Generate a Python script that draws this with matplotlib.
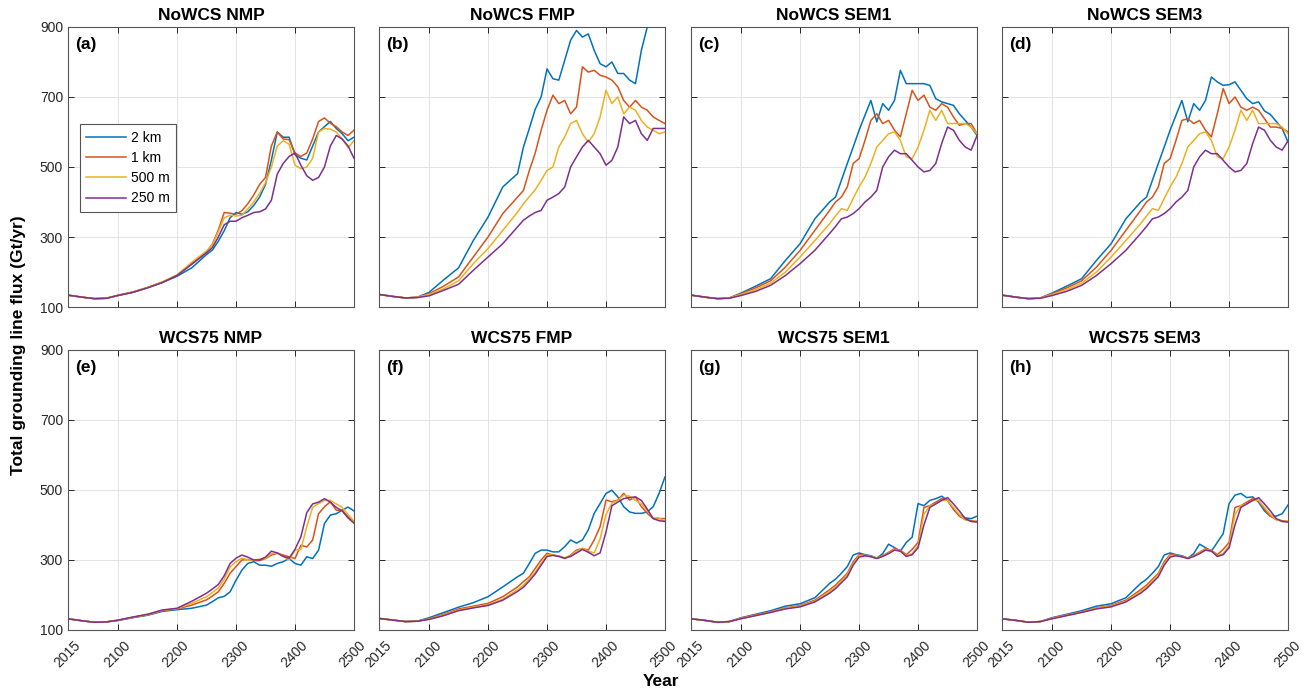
import matplotlib
matplotlib.use("Agg")
import matplotlib.pyplot as plt
import matplotlib.transforms as mtransforms

plt.rcParams['font.family'] = ['Liberation Sans', 'DejaVu Sans']

# common time axis (years)
years = [2015, 2040, 2060, 2080, 2100, 2125, 2150, 2175, 2200, 2225, 2250, 2260,
         2270, 2280, 2290, 2300, 2310, 2320, 2330, 2340, 2350, 2360, 2370, 2380,
         2390, 2400, 2410, 2420, 2430, 2440, 2450, 2460, 2470, 2480, 2490, 2500]

res_labels = ['2 km', '1 km', '500 m', '250 m']
res_colors = ['#0072BD', '#D95319', '#EDB120', '#7E2F8E']

titles = ['NoWCS NMP', 'NoWCS FMP', 'NoWCS SEM1', 'NoWCS SEM3',
          'WCS75 NMP', 'WCS75 FMP', 'WCS75 SEM1', 'WCS75 SEM3']
letters = ['(a)', '(b)', '(c)', '(d)', '(e)', '(f)', '(g)', '(h)']

# (a) NoWCS NMP
a_2km = [134, 128, 124, 125, 133, 142, 155, 170, 188, 212, 250, 263, 288, 318, 355, 370, 365, 372,
         390, 414, 450, 520, 600, 585, 585, 535, 525, 520, 560, 600, 615, 630, 610, 595, 575, 585]
a_1km = [134, 128, 124, 125, 134, 143, 156, 171, 191, 225, 258, 280, 320, 370, 368, 365, 375, 395,
         420, 450, 470, 560, 600, 580, 578, 540, 530, 540, 580, 630, 640, 625, 615, 600, 590, 605]
a_500m = [134, 128, 124, 125, 133, 143, 156, 172, 192, 228, 260, 278, 315, 355, 362, 360, 362, 380,
          400, 425, 455, 500, 560, 575, 565, 505, 495, 500, 525, 600, 610, 608, 600, 580, 555, 575]
a_250m = [134, 128, 124, 125, 133, 142, 155, 170, 190, 222, 255, 270, 300, 335, 345, 345, 355, 362,
          370, 372, 380, 405, 480, 510, 530, 540, 505, 475, 462, 470, 500, 560, 590, 580, 560, 525]

# (b) NoWCS FMP
b_2km = [136, 130, 126, 128, 142, 178, 212, 290, 357, 443, 481, 557, 610, 665, 700, 780, 752, 748,
         805, 862, 890, 871, 880, 833, 795, 786, 800, 767, 767, 748, 738, 833, 900, 915, 910, 905]
b_1km = [136, 130, 126, 128, 138, 160, 186, 243, 300, 367, 414, 433, 490, 540, 605, 662, 705, 681,
         690, 652, 671, 786, 771, 776, 762, 757, 748, 729, 690, 671, 690, 671, 662, 643, 633, 624]
b_500m = [136, 130, 126, 128, 136, 152, 175, 224, 267, 319, 371, 395, 415, 435, 462, 490, 500, 557,
          586, 624, 633, 595, 571, 595, 643, 719, 681, 700, 652, 671, 662, 633, 614, 605, 595, 600]
b_250m = [136, 130, 126, 127, 132, 148, 165, 205, 243, 281, 329, 348, 360, 370, 376, 405, 414, 424,
          443, 500, 529, 557, 576, 557, 538, 505, 519, 557, 643, 624, 633, 595, 576, 610, 610, 610]

# (c) NoWCS SEM1
c_2km = [134, 128, 124, 126, 140, 160, 181, 233, 281, 352, 400, 414, 462, 510, 557, 605, 648, 690,
         629, 681, 662, 690, 776, 738, 738, 738, 738, 733, 695, 686, 681, 676, 652, 633, 614, 590]
c_1km = [134, 128, 124, 126, 138, 155, 175, 214, 262, 319, 376, 400, 414, 443, 510, 524, 576, 633,
         652, 624, 633, 605, 586, 652, 719, 690, 705, 671, 662, 681, 671, 643, 619, 624, 624, 595]
c_500m = [134, 128, 124, 126, 136, 150, 168, 200, 243, 290, 338, 360, 381, 376, 410, 443, 471, 510,
          557, 576, 595, 600, 576, 529, 524, 557, 605, 662, 633, 662, 624, 624, 624, 624, 614, 595]
c_250m = [134, 128, 124, 125, 133, 145, 162, 190, 224, 262, 310, 330, 352, 357, 367, 381, 400, 414,
          433, 500, 529, 548, 538, 538, 519, 500, 486, 490, 510, 567, 614, 605, 576, 557, 548, 590]

# (d) NoWCS SEM3
d_2km = [134, 128, 124, 126, 140, 160, 181, 233, 281, 352, 400, 414, 462, 510, 557, 605, 648, 690,
         629, 681, 662, 690, 757, 743, 733, 735, 743, 719, 695, 681, 686, 660, 650, 630, 610, 571]
d_1km = [134, 128, 124, 126, 138, 155, 175, 214, 262, 319, 376, 400, 414, 443, 510, 524, 576, 633,
         638, 624, 633, 605, 586, 652, 724, 681, 700, 671, 662, 671, 662, 638, 614, 614, 610, 600]
d_500m = [134, 128, 124, 126, 136, 150, 168, 200, 243, 290, 338, 360, 381, 376, 410, 443, 471, 510,
          557, 576, 595, 600, 576, 529, 524, 557, 605, 662, 633, 662, 624, 624, 624, 624, 614, 595]
d_250m = [134, 128, 124, 125, 133, 145, 162, 190, 224, 262, 310, 330, 352, 357, 367, 381, 400, 414,
          433, 500, 529, 548, 538, 538, 519, 500, 486, 490, 510, 567, 614, 605, 576, 557, 548, 575]

# (e) WCS75 NMP
e_2km = [132, 126, 122, 123, 127, 135, 142, 153, 158, 162, 171, 181, 192, 196, 209, 242, 271, 290,
         295, 285, 285, 282, 290, 295, 304, 290, 285, 309, 304, 328, 404, 428, 432, 442, 451, 440]
e_1km = [132, 126, 122, 123, 128, 136, 143, 155, 160, 171, 186, 197, 209, 233, 262, 281, 300, 301,
         298, 298, 304, 314, 319, 314, 309, 304, 342, 337, 357, 432, 452, 466, 442, 442, 423, 409]
e_500m = [132, 126, 122, 123, 128, 136, 144, 156, 161, 176, 195, 207, 220, 245, 280, 295, 305, 300,
          300, 302, 305, 318, 320, 310, 300, 328, 330, 395, 450, 461, 470, 470, 460, 450, 430, 410]
e_250m = [132, 126, 122, 123, 128, 137, 145, 157, 162, 182, 205, 217, 230, 255, 290, 305, 314, 308,
          300, 300, 308, 325, 320, 310, 305, 330, 366, 435, 460, 465, 475, 465, 450, 440, 420, 405]

# (f) WCS75 FMP
f_2km = [133, 128, 124, 125, 135, 150, 165, 178, 195, 223, 252, 262, 290, 319, 328, 328, 323, 323,
         338, 357, 348, 357, 386, 433, 461, 490, 499, 480, 452, 437, 433, 433, 437, 452, 490, 537]
f_1km = [133, 128, 124, 125, 132, 145, 160, 168, 176, 195, 223, 238, 252, 276, 300, 319, 314, 311,
         304, 314, 328, 333, 328, 357, 395, 471, 466, 471, 490, 471, 480, 452, 433, 418, 418, 418]
f_500m = [133, 128, 124, 125, 131, 143, 157, 165, 172, 188, 215, 228, 245, 265, 290, 315, 314, 311,
          306, 312, 325, 333, 325, 320, 360, 430, 462, 470, 485, 482, 470, 460, 440, 420, 420, 410]
f_250m = [133, 128, 124, 125, 130, 141, 155, 163, 170, 185, 210, 222, 240, 260, 285, 310, 313, 310,
          305, 310, 320, 330, 322, 312, 320, 380, 455, 465, 475, 478, 480, 470, 445, 418, 412, 410]

# (g) WCS75 SEM1
g_2km = [132, 127, 122, 124, 135, 145, 155, 168, 175, 192, 233, 245, 262, 281, 314, 320, 315, 312,
         305, 318, 345, 335, 325, 350, 365, 461, 455, 470, 475, 482, 470, 445, 428, 420, 418, 425]
g_1km = [132, 127, 122, 124, 134, 143, 152, 163, 170, 185, 215, 228, 245, 262, 295, 315, 313, 310,
         305, 312, 322, 332, 328, 315, 330, 350, 450, 455, 465, 475, 470, 445, 425, 415, 412, 410]
g_500m = [132, 127, 122, 124, 133, 142, 151, 162, 168, 182, 210, 223, 240, 258, 290, 312, 313, 310,
          305, 311, 320, 330, 326, 312, 318, 340, 430, 455, 460, 470, 470, 450, 430, 415, 410, 410]
g_250m = [132, 127, 122, 124, 132, 141, 150, 160, 166, 180, 205, 218, 235, 252, 285, 308, 312, 309,
          304, 310, 318, 328, 325, 310, 315, 335, 400, 450, 460, 470, 478, 460, 440, 418, 410, 408]

# (h) WCS75 SEM3
h_2km = [132, 127, 122, 124, 135, 145, 155, 168, 175, 192, 233, 245, 262, 281, 314, 320, 315, 312,
         305, 318, 345, 335, 325, 350, 375, 461, 485, 490, 478, 480, 465, 440, 425, 425, 432, 457]
h_1km = [132, 127, 122, 124, 134, 143, 152, 163, 170, 185, 215, 228, 245, 262, 295, 315, 313, 310,
         305, 312, 322, 332, 328, 315, 330, 350, 450, 455, 465, 475, 470, 445, 425, 415, 412, 410]
h_500m = [132, 127, 122, 124, 133, 142, 151, 162, 168, 182, 210, 223, 240, 258, 290, 312, 313, 310,
          305, 311, 320, 330, 326, 312, 318, 340, 430, 455, 460, 470, 470, 450, 430, 415, 410, 410]
h_250m = [132, 127, 122, 124, 132, 141, 150, 160, 166, 180, 205, 218, 235, 252, 285, 308, 312, 309,
          304, 310, 318, 328, 325, 310, 315, 335, 400, 450, 460, 470, 478, 460, 440, 418, 410, 408]

panel_data = [
    [a_2km, a_1km, a_500m, a_250m],
    [b_2km, b_1km, b_500m, b_250m],
    [c_2km, c_1km, c_500m, c_250m],
    [d_2km, d_1km, d_500m, d_250m],
    [e_2km, e_1km, e_500m, e_250m],
    [f_2km, f_1km, f_500m, f_250m],
    [g_2km, g_1km, g_500m, g_250m],
    [h_2km, h_1km, h_500m, h_250m],
]

fig = plt.figure(figsize=(13.09, 6.9), dpi=100)

lefts = [0.0519, 0.2895, 0.5279, 0.7655]
bottoms = [0.555, 0.087]
w, h = 0.2185, 0.406
axcol = '#262626'
# nudge rotated year labels a little right/down, like MATLAB places them
shift = mtransforms.ScaledTranslation(5 / 100, -3 / 100, fig.dpi_scale_trans)

for i in range(8):
    r, c = divmod(i, 4)
    ax = fig.add_axes([lefts[c], bottoms[r], w, h])
    for series, lab, col in zip(panel_data[i], res_labels, res_colors):
        ax.plot(years, series, color=col, lw=1.1, label=lab)
    ax.set_xlim(2015, 2500)
    ax.set_ylim(100, 900)
    ax.set_xticks([2015, 2100, 2200, 2300, 2400, 2500])
    ax.set_yticks([100, 300, 500, 700, 900])
    ax.grid(True, color='#e3e3e3', lw=0.7)
    ax.set_axisbelow(True)
    ax.tick_params(direction='in', top=True, right=True, length=4, width=0.7,
                   colors=axcol, labelsize=10)
    for sp in ax.spines.values():
        sp.set_color('#555555')
        sp.set_linewidth(0.8)
    if r == 0:
        ax.set_xticklabels([])
    else:
        for t in ax.get_xticklabels():
            t.set_rotation(45)
            t.set_ha('right')
            t.set_va('top')
            t.set_rotation_mode('anchor')
            t.set_transform(t.get_transform() + shift)
    if c != 0:
        ax.set_yticklabels([])
    ax.set_title(titles[i], fontsize=12.5, fontweight='bold', pad=5)
    ax.text(0.025, 0.965, letters[i], transform=ax.transAxes, fontsize=12.5,
            fontweight='bold', va='top', ha='left')
    if i == 0:
        leg = ax.legend(loc='upper left', bbox_to_anchor=(0.042, 0.652), fontsize=10,
                        fancybox=False, framealpha=1, edgecolor='#555555',
                        handlelength=2.9, borderpad=0.45, labelspacing=0.45,
                        handletextpad=0.3, borderaxespad=0)
        leg.get_frame().set_linewidth(0.8)

fig.text(0.014, 0.5, 'Total grounding line flux (Gt/yr)', rotation=90,
         fontsize=12.5, fontweight='bold', va='center', ha='center')
fig.text(0.505, 0.012, 'Year', fontsize=12.5, fontweight='bold', va='center', ha='center')

fig.savefig('out.png', dpi=100)
